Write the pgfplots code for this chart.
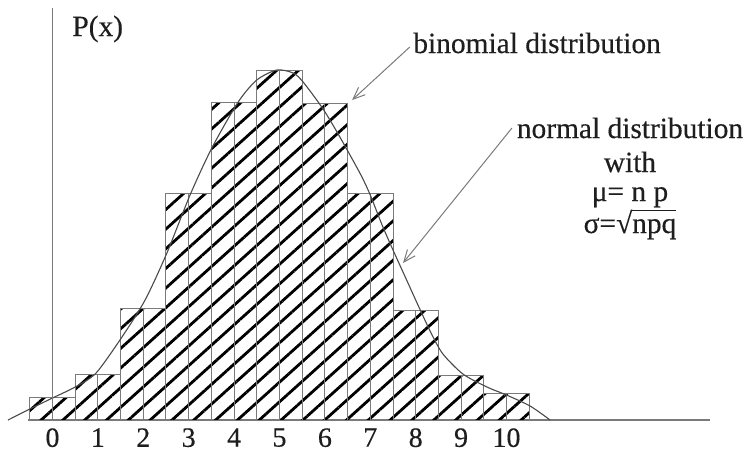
\documentclass[border=0pt]{standalone}
\usepackage{fontspec}
\setmainfont{Liberation Serif}[FakeBold=0.35]
\usepackage{pgfplots}
\usepackage{pgfplotstable}
\pgfplotsset{compat=1.18}
\usetikzlibrary{patterns.meta, arrows.meta}

% binomial probabilities (bar heights)
\pgfplotstableread{
k P
0  0.023
1  0.046
2  0.112
3  0.227
4  0.318
5  0.350
6  0.317
7  0.227
8  0.110
9  0.045
10 0.027
}\binomtab

% approximating normal curve
\pgfplotstableread{
x P
-0.98 0.000
-0.50 0.011
0.00  0.022
0.50  0.033
0.96  0.047
1.53  0.083
2.04  0.120
2.52  0.167
3.03  0.225
3.51  0.272
4.09  0.318
4.50  0.340
4.94  0.350
5.30  0.347
5.52  0.338
5.96  0.311
6.33  0.283
6.77  0.247
6.99  0.226
7.26  0.195
7.50  0.170
7.81  0.139
8.09  0.111
8.35  0.086
8.60  0.066
9.04  0.046
9.57  0.033
10.00 0.025
10.52 0.014
10.96 0.000
}\normaltab

\definecolor{linegray}{HTML}{7A7A7A}
\definecolor{curvegray}{HTML}{4A4A4A}
\definecolor{inkgray}{HTML}{1E1E1E}

\begin{document}
\begin{tikzpicture}[font=\fontsize{14.7}{17.6}\selectfont]
\begin{axis}[
  x=22.7pt, y=500pt,
  scale only axis,
  xmin=-0.54, xmax=14.48, ymin=0, ymax=0.412,
  axis x line=bottom, axis y line=none,
  axis line style={-, draw=linegray, line width=0.9pt},
  xtick={0,...,10}, major tick length=0pt,
  ytick=\empty,
  /pgf/number format/assume math mode=true,
  xticklabel style={font=\fontsize{14}{16}\selectfont, text=inkgray, yshift=-0.6pt},
  clip=false,
]
  % hatched bars
  \addplot[ybar, bar width=1, draw=linegray, line width=0.5pt,
    pattern={Lines[angle=42, distance=7.3pt, line width=1.4pt]}, pattern color=black]
    table[x=k, y=P]{\binomtab};
  % centre line of each bar
  \addplot[ycomb, draw=linegray, line width=0.5pt, mark=none]
    table[x=k, y=P]{\binomtab};
  % normal curve
  \addplot[smooth, tension=0.45, draw=curvegray, line width=0.55pt, mark=none]
    table[x=x, y=P]{\normaltab};

  % vertical axis
  \draw[linegray, line width=0.7pt] (axis cs:0,0) -- (axis cs:0,0.412);

  \node[anchor=base west, inner sep=0pt, text=inkgray] at (axis cs:0.43,0.384) {P(x)};

  \node[anchor=base west, inner sep=0pt, text=inkgray] at (axis cs:7.94,0.367) {binomial distribution};
  \draw[linegray, line width=0.5pt, -{Straight Barb[length=6pt, width=5pt]}]
    (axis cs:7.87,0.373) -- (axis cs:6.60,0.320);

  \node[anchor=base, inner sep=0pt, text=inkgray] at (axis cs:12.72,0.282) {normal distribution};
  \node[anchor=base, inner sep=0pt, text=inkgray] at (axis cs:12.72,0.248) {with};
  \node[anchor=base, inner sep=0pt, text=inkgray] at (axis cs:12.72,0.219) {μ= n p};
  \node[anchor=base, inner sep=0pt, text=inkgray] at (axis cs:12.72,0.187)
    {σ=√\rlap{\raisebox{0.74em}{\rule{1.5em}{0.5pt}}}npq};
  \draw[linegray, line width=0.5pt, -{Straight Barb[length=6pt, width=5pt]}]
    (axis cs:10.12,0.292) -- (axis cs:7.72,0.157);

  \coordinate (bbSW) at (axis cs:-1.156,-0.037);
  \coordinate (bbNE) at (axis cs:15.319,0.420);
\end{axis}
\pgfresetboundingbox
\path[use as bounding box] (bbSW) rectangle (bbNE);
\end{tikzpicture}
\end{document}
